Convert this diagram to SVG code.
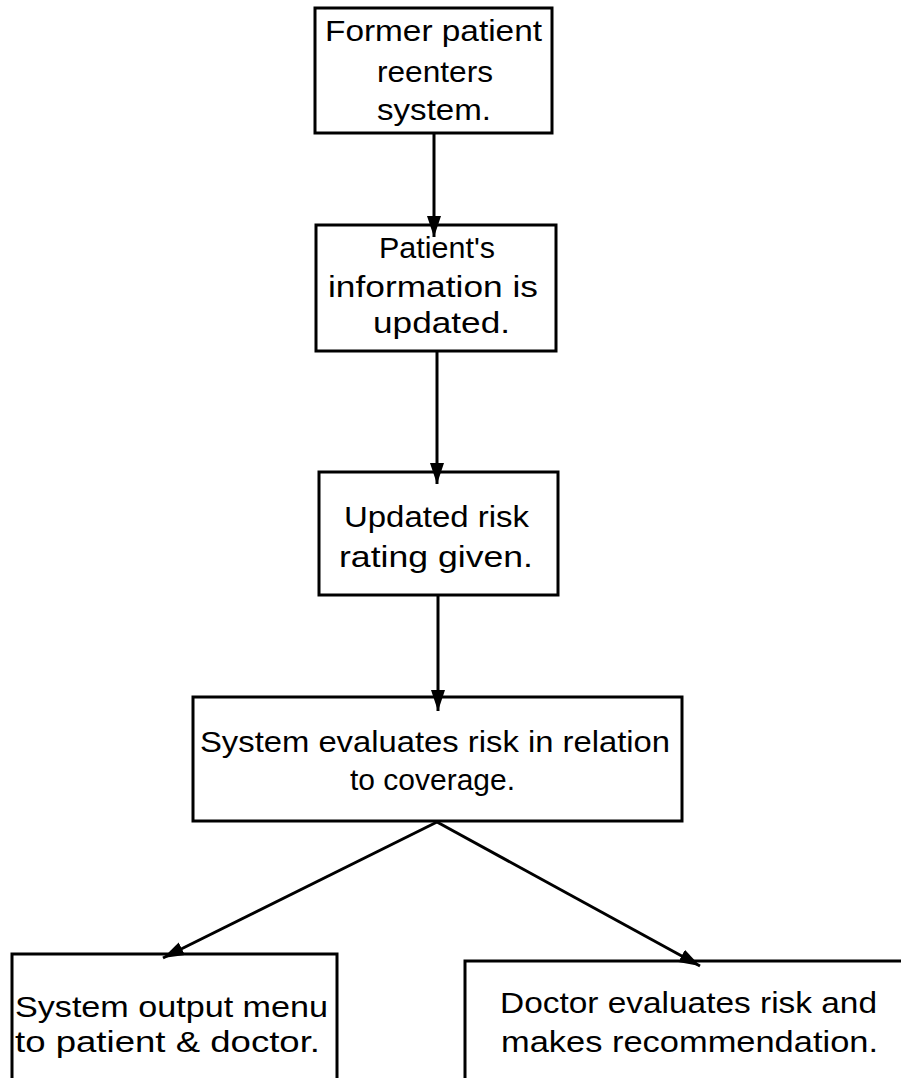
<svg xmlns="http://www.w3.org/2000/svg" width="901" height="1078" viewBox="0 0 901 1078">
  <style>
    .box { fill: #ffffff; stroke: #000000; stroke-width: 3; }
    .lbl { font-family: "Liberation Sans", Arial, sans-serif; font-size: 30px; fill: #000000; }
    .conn { stroke: #000000; stroke-width: 3; fill: none; marker-end: url(#arrow); }
  </style>
  <defs>
    <marker id="arrow" markerUnits="userSpaceOnUse" markerWidth="24" markerHeight="16" refX="21" refY="7" orient="auto">
      <path d="M0,0 L21,7 L0,14 Z" fill="#000000"/>
    </marker>
  </defs>
  <rect width="901" height="1078" fill="#ffffff"/>

  <g id="node-reenter">
    <rect class="box" x="315" y="8" width="237" height="125"/>
    <text class="lbl" x="325" y="41" textLength="217" lengthAdjust="spacingAndGlyphs">Former patient</text>
    <text class="lbl" x="377" y="82" textLength="116" lengthAdjust="spacingAndGlyphs">reenters</text>
    <text class="lbl" x="377" y="120" textLength="114" lengthAdjust="spacingAndGlyphs">system.</text>
  </g>

  <g id="node-update">
    <rect class="box" x="316" y="225" width="240" height="126"/>
    <text class="lbl" x="379" y="258" textLength="116" lengthAdjust="spacingAndGlyphs">Patient's</text>
    <text class="lbl" x="328" y="297" textLength="210" lengthAdjust="spacingAndGlyphs">information is</text>
    <text class="lbl" x="373" y="333" textLength="137" lengthAdjust="spacingAndGlyphs">updated.</text>
  </g>

  <g id="node-rating">
    <rect class="box" x="319" y="472" width="239" height="123"/>
    <text class="lbl" x="344" y="527" textLength="185" lengthAdjust="spacingAndGlyphs">Updated risk</text>
    <text class="lbl" x="339" y="567" textLength="194" lengthAdjust="spacingAndGlyphs">rating given.</text>
  </g>

  <g id="node-evaluate">
    <rect class="box" x="193" y="697" width="489" height="124"/>
    <text class="lbl" x="200" y="752" textLength="470" lengthAdjust="spacingAndGlyphs">System evaluates risk in relation</text>
    <text class="lbl" x="350" y="790" textLength="165" lengthAdjust="spacingAndGlyphs">to coverage.</text>
  </g>

  <g id="node-menu">
    <rect class="box" x="12" y="954" width="325" height="140"/>
    <text class="lbl" x="15" y="1017" textLength="313" lengthAdjust="spacingAndGlyphs">System output menu</text>
    <text class="lbl" x="15" y="1052" textLength="305" lengthAdjust="spacingAndGlyphs">to patient &amp; doctor.</text>
  </g>

  <g id="node-doctor">
    <rect class="box" x="465" y="961" width="450" height="140"/>
    <text class="lbl" x="500" y="1013" textLength="377" lengthAdjust="spacingAndGlyphs">Doctor evaluates risk and</text>
    <text class="lbl" x="501" y="1052" textLength="377" lengthAdjust="spacingAndGlyphs">makes recommendation.</text>
  </g>

  <g id="connectors">
    <line class="conn" x1="434" y1="133" x2="434" y2="237"/>
    <line class="conn" x1="437" y1="351" x2="437" y2="484"/>
    <line class="conn" x1="438" y1="595" x2="438" y2="711"/>
    <line class="conn" x1="437" y1="822" x2="163" y2="958"/>
    <line class="conn" x1="437" y1="822" x2="700" y2="966"/>
  </g>
</svg>
